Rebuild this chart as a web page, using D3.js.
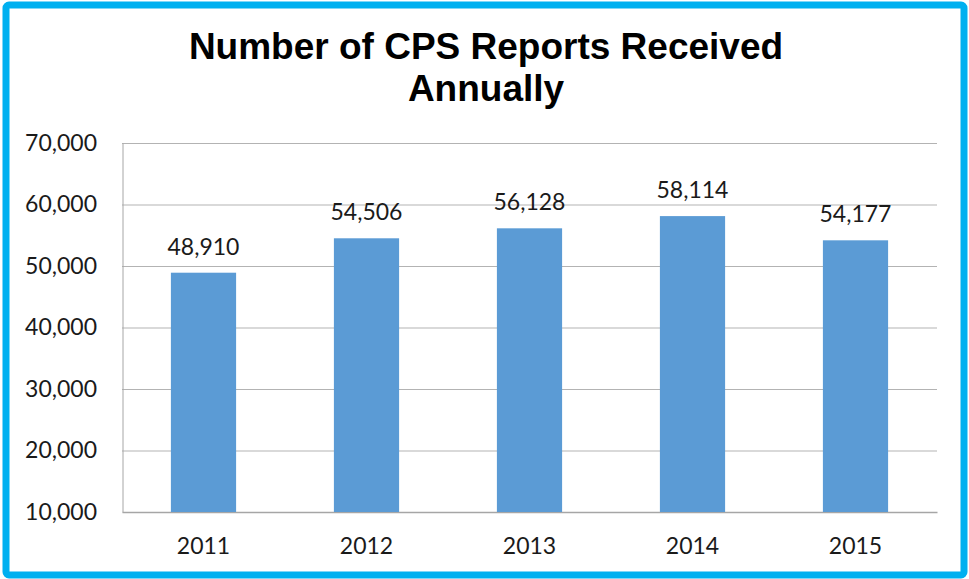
<!DOCTYPE html>
<html>
<head>
<meta charset="utf-8">
<script src="https://cdn.jsdelivr.net/npm/d3@7"></script>
<style>
  body { margin: 0; background: #fff; }
  svg { display: block; }
</style>
</head>
<body>
<div id="chart"></div>
<script>
const years = ["2011", "2012", "2013", "2014", "2015"];
const reports = [48910, 54506, 56128, 58114, 54177];
const yTicks = [10000, 20000, 30000, 40000, 50000, 60000, 70000];
const titleLines = ["Number of CPS Reports Received", "Annually"];

const W = 969, H = 579;
const margin = {top: 143, right: 32, bottom: 67, left: 122};
const width = W - margin.left - margin.right;
const height = H - margin.top - margin.bottom;

const svg = d3.select("#chart")
  .append("svg")
  .attr("width", W)
  .attr("height", H);

// outer frame
svg.append("rect")
  .attr("x", 6)
  .attr("y", 5)
  .attr("width", W - 11)
  .attr("height", H - 9)
  .attr("rx", 3)
  .attr("fill", "white")
  .attr("stroke", "#00B0F0")
  .attr("stroke-width", 7);

// title
svg.append("text")
  .attr("x", 486)
  .attr("text-anchor", "middle")
  .style("font-family", "'Liberation Sans', Arial, sans-serif")
  .style("font-weight", "bold")
  .style("font-size", "37px")
  .style("fill", "black")
  .selectAll("tspan")
  .data(titleLines)
  .join("tspan")
  .attr("x", 486)
  .attr("y", (d, i) => 59 + i * 42)
  .text(d => d);

const g = svg.append("g")
  .attr("transform", `translate(${margin.left},${margin.top})`);

const x = d3.scaleBand()
  .domain(years)
  .range([0, width])
  .padding(0);

const y = d3.scaleLinear()
  .domain([10000, 70000])
  .range([height, 0]);

const fmt = d3.format(",");

// gridlines
g.append("g")
  .selectAll("line")
  .data(yTicks.slice(1))
  .join("line")
  .attr("x1", 0)
  .attr("x2", width)
  .attr("y1", d => y(d) + 0.5)
  .attr("y2", d => y(d) + 0.5)
  .attr("stroke", "#B3B3B3")
  .attr("stroke-width", 1);

// y axis
const yAxis = g.append("g")
  .call(d3.axisLeft(y).tickValues(yTicks).tickFormat(fmt).tickSize(0).tickPadding(25));
yAxis.select(".domain").attr("stroke", "#A6A6A6").attr("transform", "translate(0.5,0)");
yAxis.selectAll("text")
  .style("font-family", "Lato, 'Open Sans', sans-serif")
  .style("font-size", "23px")
  .style("fill", "#1a1a1a");

// x axis
const xAxis = g.append("g")
  .attr("transform", `translate(0,${height})`)
  .call(d3.axisBottom(x).tickSize(0).tickPadding(26));
xAxis.select(".domain").attr("stroke", "#A6A6A6").attr("stroke-width", 1.5);
xAxis.selectAll("text")
  .style("font-family", "Lato, 'Open Sans', sans-serif")
  .style("font-size", "23px")
  .style("fill", "#1a1a1a");

// bars
const barW = x.bandwidth() * 0.4;
g.selectAll(".bar")
  .data(reports)
  .join("rect")
  .attr("class", "bar")
  .attr("x", (d, i) => x(years[i]) + (x.bandwidth() - barW) / 2)
  .attr("y", d => y(d))
  .attr("width", barW)
  .attr("height", d => height - y(d))
  .attr("fill", "#5B9BD5");

// data labels
g.selectAll(".label")
  .data(reports)
  .join("text")
  .attr("class", "label")
  .attr("x", (d, i) => x(years[i]) + x.bandwidth() / 2)
  .attr("y", d => y(d) - 18)
  .attr("text-anchor", "middle")
  .style("font-family", "Lato, 'Open Sans', sans-serif")
  .style("font-size", "23px")
  .style("fill", "#1a1a1a")
  .text(d => fmt(d));
</script>
</body>
</html>
